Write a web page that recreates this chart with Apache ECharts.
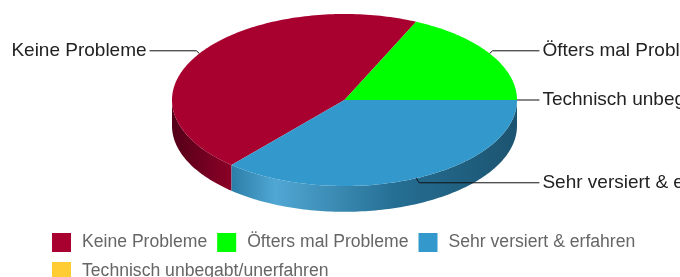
<!DOCTYPE html>
<html>
<head>
<meta charset="utf-8">
<script src="https://cdn.jsdelivr.net/npm/echarts@6/dist/echarts.min.js"></script>
<style>
  html, body { margin: 0; padding: 0; background: #fff; }
  #chart { width: 680px; height: 277px; }
</style>
</head>
<body>
<div id="chart"></div>
<script>
const categories = ['Keine Probleme', 'Öfters mal Probleme', 'Sehr versiert & erfahren', 'Technisch unbegabt/unerfahren'];
const values = [25, 10, 20, 0];
const colors = ['#a8002f', '#00ff00', '#3399cc', '#ffcc33'];
// order of slices going clockwise from 3 o'clock
const sliceOrder = [2, 0, 1, 3];

const DEPTH = 0.3;        // wall height, in y units of the unit ellipse
const LABEL_REACH = 1.13; // where the leader lines end, in x units

const total = values.reduce((a, b) => a + b, 0);
const startAngle = {};
let acc = 0;
sliceOrder.forEach(i => {
  startAngle[i] = acc / total * Math.PI * 2;
  acc += values[i];
});

function shade(hex, f) {
  const n = parseInt(hex.slice(1), 16);
  let rgb = [(n >> 16) & 255, (n >> 8) & 255, n & 255];
  rgb = rgb.map(c => f <= 1 ? c * f : c + (255 - c) * (f - 1));
  return 'rgb(' + rgb.map(c => Math.round(Math.min(255, c))).join(',') + ')';
}

function renderSlice(i) {
  return function (params, api) {
    const a0 = startAngle[i];
    const a1 = a0 + values[i] / total * Math.PI * 2;
    const pt = (t, d) => api.coord([Math.cos(t), -Math.sin(t) - (d || 0)]);
    const children = [];

    if (a1 > a0) {
      // side wall, only the front half is visible
      const s0 = Math.max(a0, 0), s1 = Math.min(a1, Math.PI);
      if (s1 > s0) {
        const m = Math.max(2, Math.ceil((s1 - s0) / 0.02));
        const side = [];
        for (let k = 0; k <= m; k++) side.push(pt(s0 + (s1 - s0) * k / m));
        for (let k = m; k >= 0; k--) side.push(pt(s0 + (s1 - s0) * k / m, DEPTH));
        const xl = api.coord([-1, 0])[0], xr = api.coord([1, 0])[0];
        const c = colors[i];
        children.push({
          type: 'polygon',
          shape: { points: side },
          style: {
            fill: new echarts.graphic.LinearGradient(xl, 0, xr, 0, [
              { offset: 0, color: shade(c, 0.5) },
              { offset: 0.17, color: shade(c, 0.82) },
              { offset: 0.3, color: shade(c, 1.14) },
              { offset: 0.65, color: shade(c, 0.72) },
              { offset: 1, color: shade(c, 0.55) }
            ], true)
          }
        });
      }
      // top face
      const n = Math.max(2, Math.ceil((a1 - a0) / 0.02));
      const top = [api.coord([0, 0])];
      for (let k = 0; k <= n; k++) top.push(pt(a0 + (a1 - a0) * k / n));
      children.push({ type: 'polygon', shape: { points: top }, style: { fill: colors[i] } });
    }

    // leader line + label
    const mid = (a0 + a1) / 2;
    const anchor = pt(mid);
    const dir = Math.cos(mid) >= 0 ? 1 : -1;
    const endX = api.coord([dir * LABEL_REACH, 0])[0];
    const ly = anchor[1] + Math.sin(mid) * 5;
    children.push({
      type: 'polyline',
      shape: { points: [anchor, [anchor[0] + dir * 3, ly], [endX, ly]] },
      style: { stroke: '#111', lineWidth: 1, fill: null }
    });
    children.push({
      type: 'text',
      x: endX + dir * 3,
      y: ly,
      style: {
        text: categories[i],
        fill: '#222',
        font: '19px "Liberation Sans", Arial, sans-serif',
        align: dir > 0 ? 'left' : 'right',
        verticalAlign: 'middle'
      }
    });
    return { type: 'group', children };
  };
}

const chart = echarts.init(document.getElementById('chart'), null, { renderer: 'canvas' });

chart.setOption({
  animation: false,
  grid: { left: 172, width: 345, top: 14, height: 172 },
  xAxis: { type: 'value', min: -1, max: 1, show: false },
  yAxis: { type: 'value', min: -1, max: 1, show: false },
  legend: {
    data: categories,
    left: 52,
    top: 233,
    width: 600,
    padding: 0,
    icon: 'rect',
    itemWidth: 19,
    itemHeight: 19,
    itemGap: 10,
    textStyle: {
      color: '#666',
      fontSize: 17.6,
      fontFamily: '"Liberation Sans", Arial, sans-serif',
      padding: [0, 6, 0, 6]
    }
  },
  series: categories.map((name, i) => ({
    type: 'custom',
    name,
    itemStyle: { color: colors[i] },
    renderItem: renderSlice(i),
    data: [[values[i]]]
  }))
});
</script>
</body>
</html>
